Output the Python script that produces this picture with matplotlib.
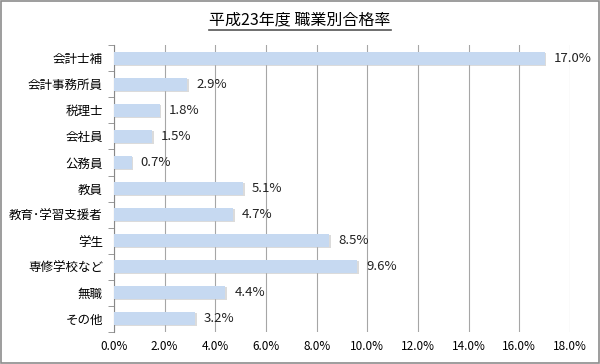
import matplotlib.pyplot as plt
from matplotlib.lines import Line2D
from matplotlib.patches import Rectangle

plt.rcParams['font.family'] = ['Noto Sans CJK JP', 'DejaVu Sans']

categories = ["会計士補", "会計事務所員", "税理士", "会社員", "公務員", "教員",
              "教育･学習支援者", "学生", "専修学校など", "無職", "その他"]
rates = [17.0, 2.9, 1.8, 1.5, 0.7, 5.1, 4.7, 8.5, 9.6, 4.4, 3.2]
xticks = [0, 2, 4, 6, 8, 10, 12, 14, 16, 18]
title = "平成23年度 職業別合格率"

fig = plt.figure(figsize=(6, 3.64), dpi=100)
ax = fig.add_axes([0.19, 0.088, 0.76, 0.788])

n = len(categories)
ypos = list(range(n))[::-1]
# faint shadow then bar
ax.barh([y - 0.04 for y in ypos], [r + 0.06 for r in rates], height=0.5,
        color="#b8b8b8", alpha=0.5, zorder=2)
ax.barh(ypos, rates, height=0.5, color="#c6d9f1", zorder=3)
for y, r in zip(ypos, rates):
    ax.text(r + 0.35, y, f"{r:.1f}%", va="center", ha="left", fontsize=9.5,
            color="#222222", zorder=4)

ax.set_xlim(0, 18)
ax.set_ylim(-0.5, n - 0.5)
ax.set_xticks(xticks)
ax.set_xticklabels([f"{t:.1f}%" for t in xticks], fontsize=8.5)
ax.set_yticks(ypos)
ax.set_yticklabels(categories, fontsize=9)
ax.set_yticks([i - 0.5 for i in range(n + 1)], minor=True)
ax.tick_params(axis="y", which="major", length=0, pad=8)
ax.tick_params(axis="y", which="minor", length=4, color="#888888", direction="out")
ax.tick_params(axis="x", length=0, pad=6)
ax.grid(axis="x", color="#a6a6a6", linewidth=0.8, zorder=0)
for s in ["top", "right", "bottom"]:
    ax.spines[s].set_visible(False)
ax.spines["left"].set_color("#888888")

t = fig.text(0.5, 0.945, title, ha="center", va="center", fontsize=11.5)
fig.canvas.draw()
bb = t.get_window_extent().transformed(fig.transFigure.inverted())
fig.add_artist(Line2D([bb.x0, bb.x1], [bb.y0 - 0.004, bb.y0 - 0.004],
                      transform=fig.transFigure, color="#555555", linewidth=1.2))

fig.add_artist(Rectangle((0.002, 0.003), 0.996, 0.994, transform=fig.transFigure,
                         fill=False, edgecolor="#8c8c8c", linewidth=1.2))

fig.savefig("out.png", dpi=100)
